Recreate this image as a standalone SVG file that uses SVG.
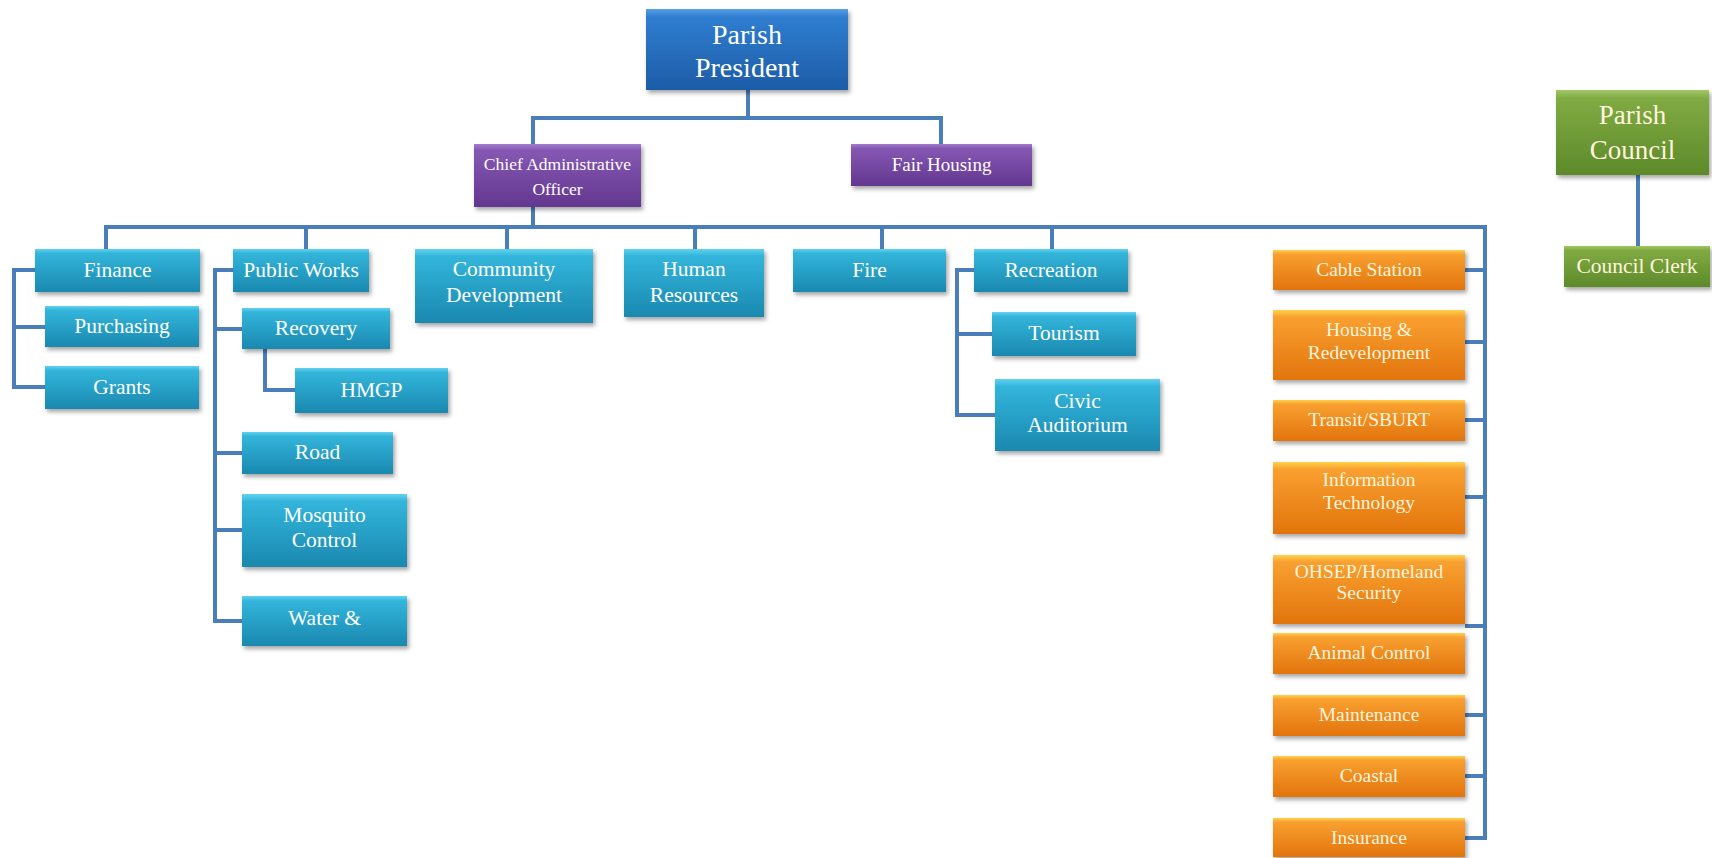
<svg xmlns="http://www.w3.org/2000/svg" width="1712" height="858" viewBox="0 0 1712 858">
<defs>
<linearGradient id="gBl" x1="0" y1="0" x2="0" y2="1"><stop offset="0" stop-color="#5a9fe6"/><stop offset="0.1" stop-color="#2f7dd0"/><stop offset="1" stop-color="#1d5ca7"/></linearGradient>
<linearGradient id="gPu" x1="0" y1="0" x2="0" y2="1"><stop offset="0" stop-color="#a27ccc"/><stop offset="0.1" stop-color="#8558b3"/><stop offset="1" stop-color="#63378f"/></linearGradient>
<linearGradient id="gCy" x1="0" y1="0" x2="0" y2="1"><stop offset="0" stop-color="#62d2ee"/><stop offset="0.1" stop-color="#33b5db"/><stop offset="1" stop-color="#1a88af"/></linearGradient>
<linearGradient id="gOr" x1="0" y1="0" x2="0" y2="1"><stop offset="0" stop-color="#ffd24a"/><stop offset="0.1" stop-color="#f9a030"/><stop offset="1" stop-color="#e2740c"/></linearGradient>
<linearGradient id="gGr" x1="0" y1="0" x2="0" y2="1"><stop offset="0" stop-color="#a3c765"/><stop offset="0.1" stop-color="#80ab43"/><stop offset="1" stop-color="#5d8a2a"/></linearGradient>
<filter id="sh" x="-10%" y="-10%" width="125%" height="140%"><feDropShadow dx="2" dy="3" stdDeviation="2" flood-color="#000" flood-opacity="0.35"/></filter>
</defs>
<style>
.box{filter:url(#sh)}
.bl{fill:url(#gBl)}
.pu{fill:url(#gPu)}
.cy{fill:url(#gCy)}
.or{fill:url(#gOr)}
.gr{fill:url(#gGr)}
text{font-family:"Liberation Serif","Times New Roman",serif;text-anchor:middle;fill:#ffffff}
.t28{font-size:28px}
.t27{font-size:27px}
.t21{font-size:21.5px}
.t19{font-size:19.5px}
.t18{font-size:19px}
.t17{font-size:17.5px}
.cr{fill:#fff4dc}
.ln{fill:none;stroke:#4a7ebb;stroke-width:4}
</style>
<rect width="1712" height="858" fill="#ffffff"/>
<g id="connectors" class="ln">
<path d="M748 90V118M533 118H941M533 116V144M941 116V144"/>
<path d="M533 207V227M106 227H1485V840M106 225V249M306 225V249M507 225V249M695 225V249M882 225V249M1052 225V249"/>
<path d="M35 270H14V387H45M14 327H45"/>
<path d="M233 270H215V621H242M215 329H242M215 453H242M215 530H242"/>
<path d="M265 349V390H295"/>
<path d="M974 270H957V415H995M957 334H992"/>
<path d="M1465 270H1485M1465 342H1485M1465 420H1485M1465 497H1485M1465 626H1485M1465 715H1485M1465 776H1485M1465 838H1485"/>
<path d="M1638 175V246"/>
</g>
<g id="n-president"><rect class="box bl" x="646" y="9" width="202" height="81"/><text class="t28" x="747" y="44">Parish</text><text class="t28" x="747" y="77">President</text></g>
<g id="n-cao"><rect class="box pu" x="474" y="144" width="167" height="63"/><text class="t17" x="557.5" y="170">Chief Administrative</text><text class="t17" x="557.5" y="195">Officer</text></g>
<g id="n-fairhousing"><rect class="box pu" x="851" y="144" width="181" height="42"/><text class="t18" x="941.5" y="171">Fair Housing</text></g>
<g id="n-finance"><rect class="box cy" x="35" y="249" width="165" height="43"/><text class="t21" x="117.5" y="277">Finance</text></g>
<g id="n-purchasing"><rect class="box cy" x="45" y="306" width="154" height="41"/><text class="t21" x="122" y="333">Purchasing</text></g>
<g id="n-grants"><rect class="box cy" x="45" y="366" width="154" height="43"/><text class="t21" x="122" y="394">Grants</text></g>
<g id="n-publicworks"><rect class="box cy" x="233" y="249" width="136" height="43"/><text class="t21" x="301" y="277">Public Works</text></g>
<g id="n-recovery"><rect class="box cy" x="242" y="308" width="148" height="41"/><text class="t21" x="316" y="335">Recovery</text></g>
<g id="n-hmgp"><rect class="box cy" x="295" y="368" width="153" height="45"/><text class="t21" x="371.5" y="397">HMGP</text></g>
<g id="n-road"><rect class="box cy" x="242" y="432" width="151" height="42"/><text class="t21" x="317.5" y="459">Road</text></g>
<g id="n-mosquito"><rect class="box cy" x="242" y="494" width="165" height="73"/><text class="t21" x="324.5" y="522">Mosquito</text><text class="t21" x="324.5" y="547">Control</text></g>
<g id="n-water"><rect class="box cy" x="242" y="596" width="165" height="50"/><text class="t21" x="324.5" y="625">Water &amp;</text></g>
<g id="n-community"><rect class="box cy" x="415" y="249" width="178" height="74"/><text class="t21" x="504" y="276">Community</text><text class="t21" x="504" y="302">Development</text></g>
<g id="n-hr"><rect class="box cy" x="624" y="249" width="140" height="68"/><text class="t21" x="694" y="276">Human</text><text class="t21" x="694" y="302">Resources</text></g>
<g id="n-fire"><rect class="box cy" x="793" y="249" width="153" height="43"/><text class="t21" x="869.5" y="277">Fire</text></g>
<g id="n-recreation"><rect class="box cy" x="974" y="249" width="154" height="43"/><text class="t21" x="1051" y="277">Recreation</text></g>
<g id="n-tourism"><rect class="box cy" x="992" y="312" width="144" height="44"/><text class="t21" x="1064" y="340">Tourism</text></g>
<g id="n-civic"><rect class="box cy" x="995" y="379" width="165" height="72"/><text class="t21" x="1077.5" y="408">Civic</text><text class="t21" x="1077.5" y="432">Auditorium</text></g>
<g id="n-cable"><rect class="box or" x="1273" y="250" width="192" height="40"/><text class="t19 cr" x="1369" y="276">Cable Station</text></g>
<g id="n-housing"><rect class="box or" x="1273" y="310" width="192" height="70"/><text class="t19 cr" x="1369" y="336">Housing &amp;</text><text class="t19 cr" x="1369" y="359">Redevelopment</text></g>
<g id="n-transit"><rect class="box or" x="1273" y="400" width="192" height="41"/><text class="t19 cr" x="1369" y="426">Transit/SBURT</text></g>
<g id="n-it"><rect class="box or" x="1273" y="462" width="192" height="72"/><text class="t19 cr" x="1369" y="486">Information</text><text class="t19 cr" x="1369" y="509">Technology</text></g>
<g id="n-ohsep"><rect class="box or" x="1273" y="555" width="192" height="69"/><text class="t19 cr" x="1369" y="578">OHSEP/Homeland</text><text class="t19 cr" x="1369" y="599">Security</text></g>
<g id="n-animal"><rect class="box or" x="1273" y="633" width="192" height="41"/><text class="t19 cr" x="1369" y="659">Animal Control</text></g>
<g id="n-maintenance"><rect class="box or" x="1273" y="695" width="192" height="41"/><text class="t19 cr" x="1369" y="721">Maintenance</text></g>
<g id="n-coastal"><rect class="box or" x="1273" y="756" width="192" height="41"/><text class="t19 cr" x="1369" y="782">Coastal</text></g>
<g id="n-insurance"><rect class="box or" x="1273" y="818" width="192" height="39"/><text class="t19 cr" x="1369" y="844">Insurance</text></g>
<g id="n-council"><rect class="box gr" x="1556" y="90" width="153" height="85"/><text class="t27 cr" x="1632.5" y="124">Parish</text><text class="t27 cr" x="1632.5" y="159">Council</text></g>
<g id="n-clerk"><rect class="box gr" x="1564" y="246" width="146" height="41"/><text class="t21 cr" x="1637" y="273">Council Clerk</text></g>
</svg>
